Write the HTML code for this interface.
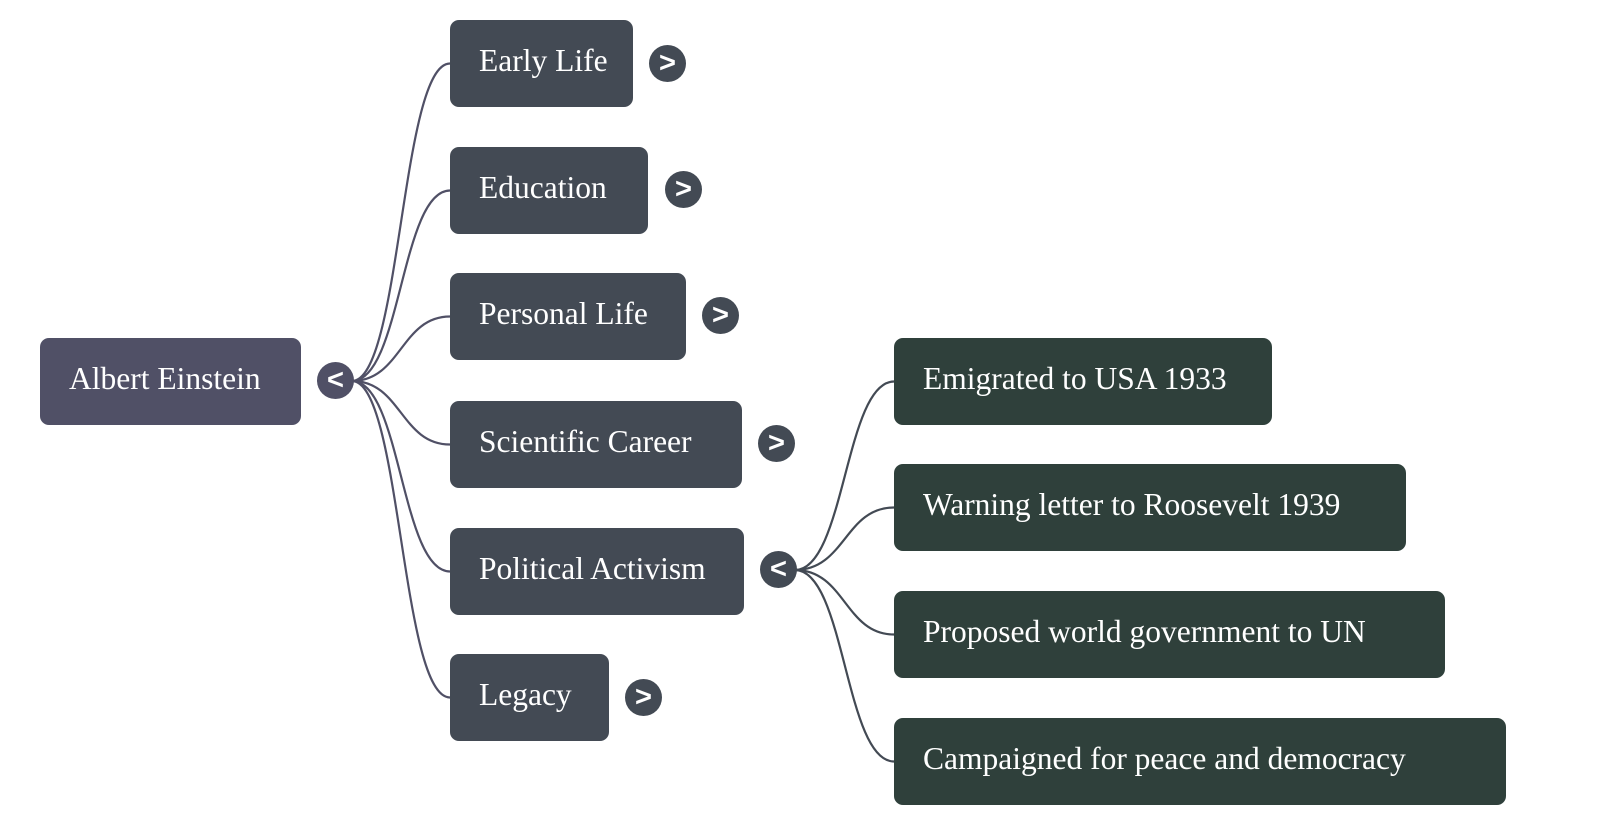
<!DOCTYPE html>
<html><head><meta charset="utf-8"><style>
body{margin:0;width:1600px;height:824px;background:#fff;position:relative;overflow:hidden;font-family:"Liberation Serif",serif}
.n{position:absolute;height:87px;border-radius:9px;color:#fff;font-size:31.5px;line-height:81px;padding-left:29px;box-sizing:border-box;white-space:nowrap}
.r{background:#505066}.a{background:#434a54}.b{background:#2f403b}
.c{position:absolute;width:37px;height:37px;border-radius:50%;color:#fff;font-family:"Liberation Sans",sans-serif;font-size:29px;font-weight:bold;line-height:36px;text-align:center}
svg{position:absolute;left:0;top:0}
</style></head><body>
<svg width="1600" height="824" fill="none" stroke-width="2.2">
<g stroke="#505066">
<path d="M352 381 C401 381 401 63.5 450 63.5"/>
<path d="M352 381 C401 381 401 190.5 450 190.5"/>
<path d="M352 381 C401 381 401 316.5 450 316.5"/>
<path d="M352 381 C401 381 401 444.5 450 444.5"/>
<path d="M352 381 C401 381 401 571.5 450 571.5"/>
<path d="M352 381 C401 381 401 697.5 450 697.5"/>
</g>
<g stroke="#434a54">
<path d="M795 570 C845 570 845 381.5 894 381.5"/>
<path d="M795 570 C845 570 845 507.5 894 507.5"/>
<path d="M795 570 C845 570 845 634.5 894 634.5"/>
<path d="M795 570 C845 570 845 761.5 894 761.5"/>
</g>
</svg>
<div class="n r" style="left:40px;top:338px;width:261px">Albert Einstein</div>
<div class="c r" style="left:317px;top:362px">&lt;</div>
<div class="n a" style="left:450px;top:20px;width:183px">Early Life</div>
<div class="c a" style="left:649px;top:45px">&gt;</div>
<div class="n a" style="left:450px;top:147px;width:198px">Education</div>
<div class="c a" style="left:665px;top:171px">&gt;</div>
<div class="n a" style="left:450px;top:273px;width:236px">Personal Life</div>
<div class="c a" style="left:702px;top:297px">&gt;</div>
<div class="n a" style="left:450px;top:401px;width:292px">Scientific Career</div>
<div class="c a" style="left:758px;top:425px">&gt;</div>
<div class="n a" style="left:450px;top:528px;width:294px">Political Activism</div>
<div class="c a" style="left:760px;top:551px">&lt;</div>
<div class="n a" style="left:450px;top:654px;width:159px">Legacy</div>
<div class="c a" style="left:625px;top:679px">&gt;</div>
<div class="n b" style="left:894px;top:338px;width:378px">Emigrated to USA 1933</div>
<div class="n b" style="left:894px;top:464px;width:512px">Warning letter to Roosevelt 1939</div>
<div class="n b" style="left:894px;top:591px;width:551px">Proposed world government to UN</div>
<div class="n b" style="left:894px;top:718px;width:612px">Campaigned for peace and democracy</div>
</body></html>
